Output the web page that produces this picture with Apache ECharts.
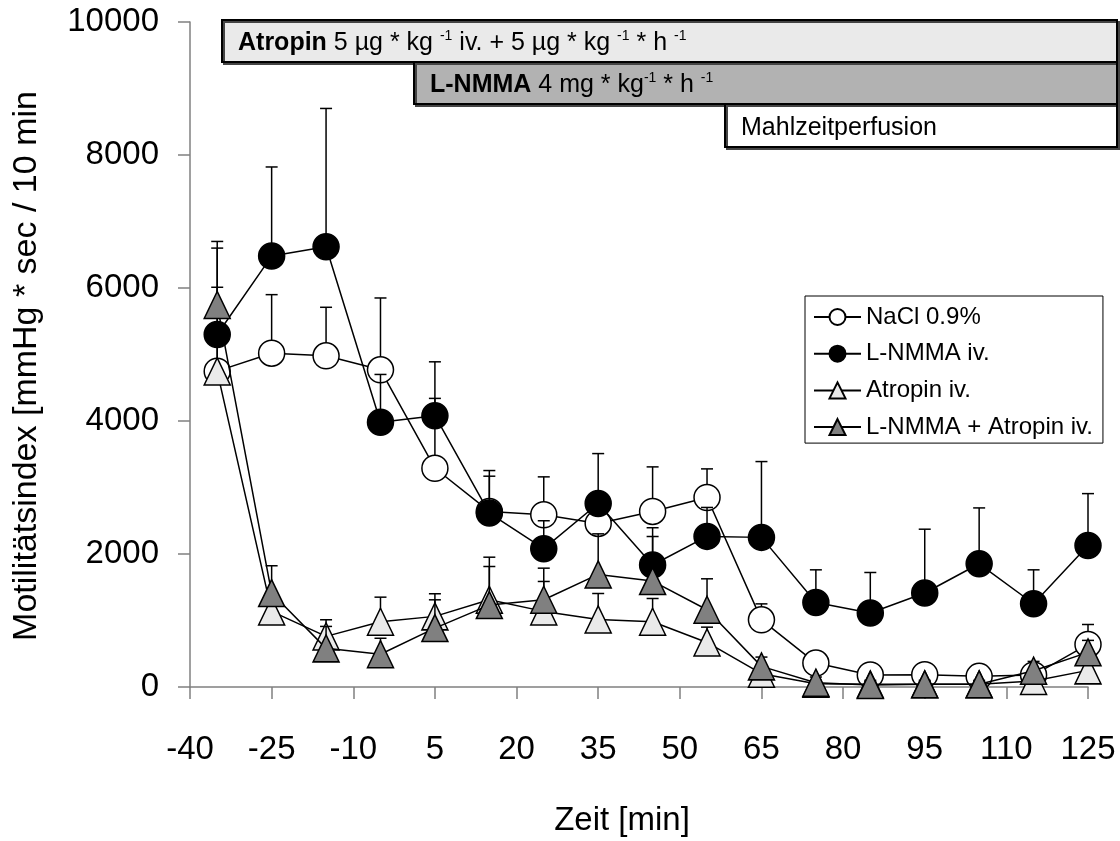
<!DOCTYPE html>
<html>
<head>
<meta charset="utf-8">
<script src="https://cdn.jsdelivr.net/npm/echarts@6/dist/echarts.min.js"></script>
<style>html,body{margin:0;padding:0;background:#fff;}#c{width:1120px;height:841px;}</style>
</head>
<body>
<div id="c"></div>
<script>
// ---- data ----
const times = [-35, -25, -15, -5, 5, 15, 25, 35, 45, 55, 65, 75, 85, 95, 105, 115, 125];
const xMin = -40, xMax = 125, xStep = 15;
const yMin = 0, yMax = 10000, yStep = 2000;

const seriesNames = ['NaCl 0.9%', 'L-NMMA iv.', 'Atropin iv.', 'L-NMMA + Atropin iv.'];

const naclMean  = [4750, 5020, 4980, 4770, 3290, 2640, 2590, 2460, 2640, 2850, 1010, 360, 180, 185, 160, 180, 640];
const naclErr   = [1850,  880,  730, 1080, 1050,  530,  570,  440,  670,  430,  240,  90,  70,  70,  70,  80, 300];

const lnmmaMean = [5300, 6480, 6620, 3980, 4080, 2615, 2080, 2760, 1835, 2265, 2250, 1272, 1112, 1413, 1853, 1252, 2128];
const lnmmaErr  = [1400, 1340, 2080,  720,  810,  640,  420,  750,  560,  435, 1140,  490,  610,  960,  840,  510,  780];

const atroMean  = [4745, 1137,  761,  981, 1062, 1312, 1137, 1016,  981,  670,  200,   50,   40,   40,   40,   90,  250];
const atroErr   = [ 650,  160,  250,  370,  340,  500,  450,  390,  350,  230,  100,   50,   40,   40,   40,   60,  150];

const comboMean = [5746, 1413,  581,  493,  886, 1232, 1312, 1693, 1593, 1162,  310,   65,   30,   40,   40,  245,  521];
const comboErr  = [ 265,  410,  330,  240,  425,  720,  475,  610,  670,  465,  140,   85,   70,   60,   60,  140,  180];

// ---- build ----
const FONT = 'Liberation Sans, Arial, Helvetica, sans-serif';
const means = [naclMean, lnmmaMean, atroMean, comboMean];
const errs = [naclErr, lnmmaErr, atroErr, comboErr];
const symbols = ['circle', 'circle', 'triangle', 'triangle'];
const fills = ['#ffffff', '#000000', '#eaeaea', '#808080'];
const sizes = [26, 26, [26, 27], [26, 27]];

function shiftX(t) { return t - xMin; }

function errRender(params, api) {
  const x = api.value(0), m = api.value(1), t = api.value(2);
  const p0 = api.coord([x, m]), p1 = api.coord([x, t]);
  return {
    type: 'group',
    children: [
      { type: 'line', shape: { x1: p0[0], y1: p0[1], x2: p1[0], y2: p1[1] }, style: { stroke: '#000', lineWidth: 1.5 } },
      { type: 'line', shape: { x1: p1[0] - 6, y1: p1[1], x2: p1[0] + 6, y2: p1[1] }, style: { stroke: '#000', lineWidth: 1.5 } }
    ]
  };
}

const series = [];
seriesNames.forEach((name, i) => {
  series.push({
    name: 'err' + i,
    type: 'custom',
    renderItem: errRender,
    encode: { x: 0, y: [1, 2] },
    data: times.map((t, k) => [shiftX(t), means[i][k], means[i][k] + errs[i][k]]),
    z: 2 + i * 2,
    clip: false,
    silent: true
  });
  series.push({
    name: name,
    type: 'line',
    data: times.map((t, k) => [shiftX(t), means[i][k]]),
    symbol: symbols[i],
    symbolSize: sizes[i],
    showSymbol: true,
    clip: false,
    z: 3 + i * 2,
    lineStyle: { color: '#000', width: 1.5 },
    itemStyle: { color: fills[i], borderColor: '#000', borderWidth: 1.5, opacity: 1 },
    emphasis: { disabled: true }
  });
});

const BOXFS = 25;
const sub = { fontSize: 14, verticalAlign: 'top', lineHeight: 12, fontFamily: FONT, fill: '#000' };
const bStyle = { fontSize: BOXFS, fontWeight: 'bold', fontFamily: FONT, lineHeight: 27 };
const nStyle = { fontSize: BOXFS, fontFamily: FONT, lineHeight: 27 };

const option = {
  animation: false,
  backgroundColor: '#fff',
  grid: { left: 190, right: 32, top: 22, bottom: 154, containLabel: false },
  xAxis: {
    type: 'value',
    min: shiftX(xMin), max: shiftX(xMax), interval: xStep,
    axisLine: { show: true, lineStyle: { color: '#808080', width: 1.5 } },
    axisTick: { show: true, length: 12, lineStyle: { color: '#808080', width: 1.5 } },
    splitLine: { show: false },
    axisLabel: { fontSize: 33, fontFamily: FONT, color: '#000', margin: 46, formatter: v => String(v + xMin) }
  },
  yAxis: {
    type: 'value',
    min: yMin, max: yMax, interval: yStep,
    axisLine: { show: true, lineStyle: { color: '#808080', width: 1.5 } },
    axisTick: { show: true, length: 12, lineStyle: { color: '#808080', width: 1.5 } },
    splitLine: { show: false },
    axisLabel: { fontSize: 33, fontFamily: FONT, color: '#000', margin: 31, formatter: v => String(v) }
  },
  legend: {
    data: seriesNames,
    orient: 'vertical',
    left: 805, top: 296,
    padding: [9, 10, 4, 8],
    itemWidth: 47, itemHeight: 20, itemGap: 12.7,
    backgroundColor: '#fff',
    borderColor: '#000', borderWidth: 1,
    textStyle: { fontSize: 24, lineHeight: 24, fontFamily: FONT, color: '#000' },
    selectedMode: false
  },
  graphic: [
    { type: 'rect', shape: { x: 222, y: 20, width: 895, height: 42 }, style: { fill: '#eaeaea', stroke: '#000', lineWidth: 2, shadowColor: '#444', shadowOffsetX: 2, shadowOffsetY: 2 }, z: 100 },
    { type: 'rect', shape: { x: 414, y: 62, width: 703, height: 42 }, style: { fill: '#b2b2b2', stroke: '#000', lineWidth: 2, shadowColor: '#444', shadowOffsetX: 2, shadowOffsetY: 2 }, z: 101 },
    { type: 'rect', shape: { x: 725, y: 104, width: 392, height: 43 }, style: { fill: '#ffffff', stroke: '#000', lineWidth: 2, shadowColor: '#444', shadowOffsetX: 2, shadowOffsetY: 2 }, z: 102 },
    { type: 'text', x: 238, y: 43, z: 110,
      style: { text: '{b|Atropin}{n| 5 µg * kg }{s|-1}{n| iv. + 5 µg * kg }{s|-1}{n| * h }{s|-1}',
        verticalAlign: 'middle', align: 'left',
        rich: { b: bStyle, n: nStyle, s: sub } } },
    { type: 'text', x: 430, y: 85, z: 110,
      style: { text: '{b|L-NMMA}{n| 4 mg * kg}{s|-1}{n| * h }{s|-1}',
        verticalAlign: 'middle', align: 'left',
        rich: { b: bStyle, n: nStyle, s: sub } } },
    { type: 'text', x: 741, y: 128, z: 110,
      style: { text: 'Mahlzeitperfusion', fontSize: BOXFS, fontFamily: FONT, fill: '#000', verticalAlign: 'middle', align: 'left' } },
    { type: 'text', x: 27, y: 366, rotation: Math.PI / 2, z: 110,
      style: { text: 'Motilitätsindex [mmHg * sec / 10 min', fontSize: 34, fontFamily: FONT, fill: '#000', align: 'center', verticalAlign: 'middle' } },
    { type: 'text', x: 622, y: 821, z: 110,
      style: { text: 'Zeit [min]', fontSize: 33, fontFamily: FONT, fill: '#000', align: 'center', verticalAlign: 'middle' } }
  ],
  series: series
};

const chart = echarts.init(document.getElementById('c'), null, { renderer: 'canvas' });
chart.setOption(option);
</script>
</body>
</html>
